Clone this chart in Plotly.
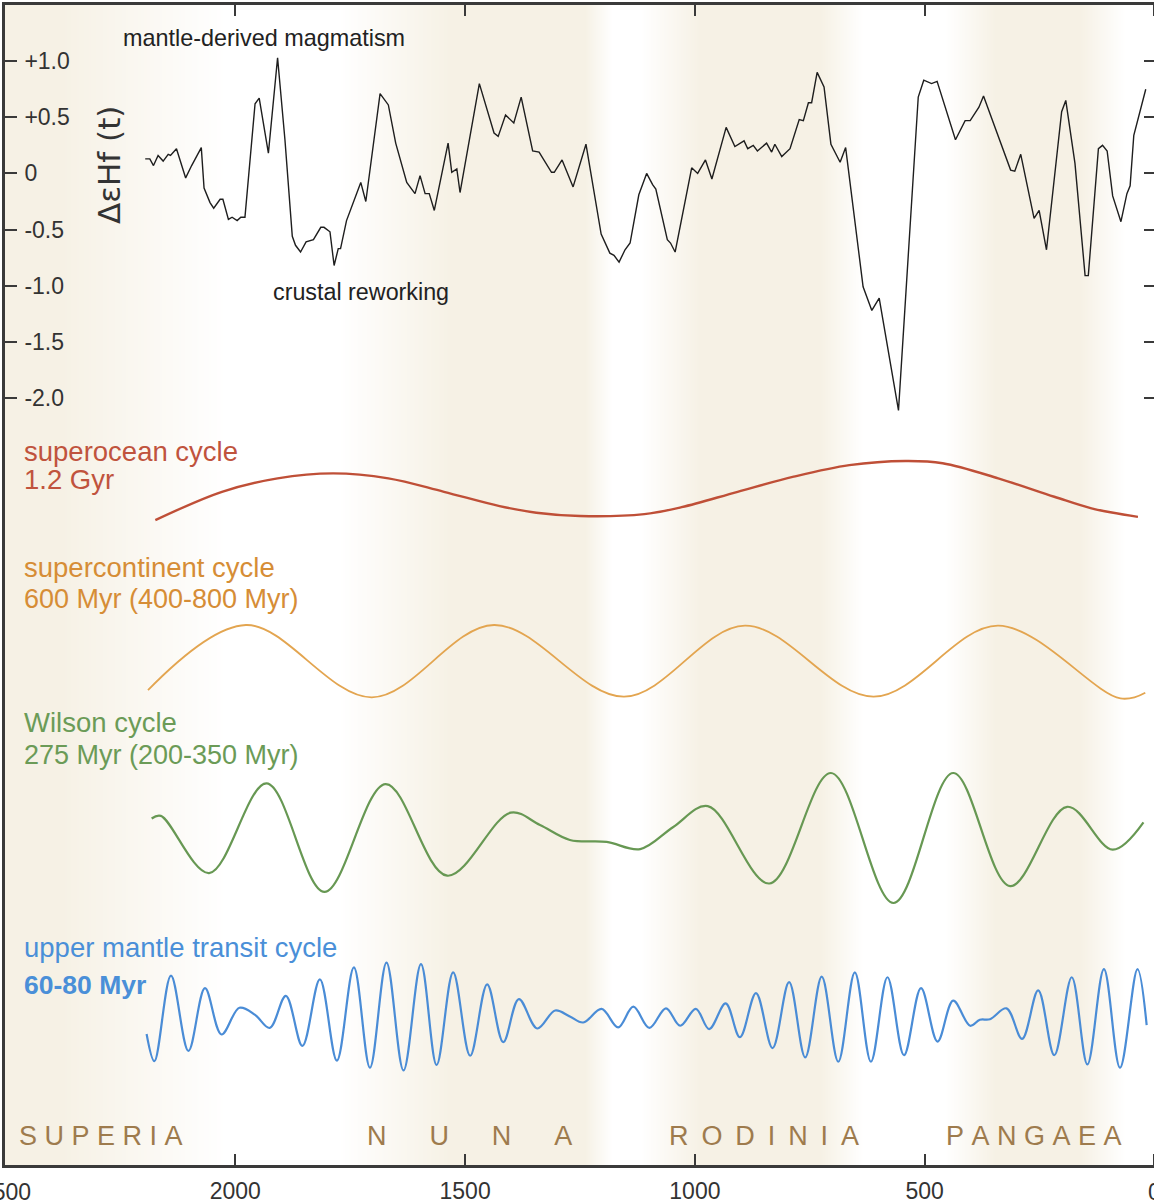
import plotly.graph_objects as go

# ---------------- data ----------------
# Delta eHf(t) curve (age in Ma, value)
hf_age = [2196, 2186, 2178, 2168, 2157, 2146, 2141, 2128, 2108, 2095, 2074, 2068, 2055, 2047, 2033, 2027,
          2015, 2007, 1996, 1988, 1979, 1957, 1948, 1928, 1908, 1892, 1876, 1869, 1858, 1846, 1830, 1814,
          1807, 1794, 1785, 1776, 1771, 1758, 1727, 1716, 1685, 1667, 1651, 1642, 1627, 1609, 1598, 1587,
          1578, 1567, 1537, 1529, 1518, 1511, 1469, 1437, 1428, 1412, 1394, 1378, 1353, 1339, 1312, 1306,
          1289, 1265, 1237, 1204, 1185, 1176, 1165, 1152, 1141, 1122, 1105, 1092, 1085, 1060, 1053, 1043,
          1007, 994, 977, 963, 949, 932, 913, 893, 885, 873, 864, 844, 833, 826, 811, 793,
          773, 764, 753, 746, 734, 719, 704, 684, 672, 634, 615, 599, 557, 514, 502, 485,
          473, 433, 412, 401, 382, 372, 313, 304, 291, 262, 251, 235, 202, 193, 173, 151,
          144, 122, 113, 103, 91, 73, 60, 53, 45, 19]
hf_val = [0.13, 0.13, 0.07, 0.16, 0.11, 0.17, 0.16, 0.22, -0.04, 0.07, 0.23, -0.13, -0.26, -0.31, -0.23, -0.23,
          -0.41, -0.39, -0.42, -0.39, -0.39, 0.62, 0.67, 0.18, 1.03, 0.30, -0.56, -0.64, -0.70, -0.61, -0.59, -0.48,
          -0.48, -0.52, -0.82, -0.67, -0.67, -0.42, -0.08, -0.25, 0.71, 0.61, 0.27, 0.13, -0.08, -0.18, -0.02, -0.18,
          -0.18, -0.33, 0.27, 0.01, 0.04, -0.17, 0.80, 0.36, 0.33, 0.52, 0.45, 0.68, 0.20, 0.19, 0.01, 0.01,
          0.12, -0.12, 0.26, -0.54, -0.71, -0.73, -0.79, -0.68, -0.62, -0.19, 0.00, -0.10, -0.14, -0.59, -0.62, -0.70,
          0.05, 0.00, 0.12, -0.05, 0.15, 0.41, 0.24, 0.29, 0.22, 0.25, 0.20, 0.27, 0.19, 0.26, 0.15, 0.22,
          0.48, 0.47, 0.63, 0.63, 0.90, 0.77, 0.26, 0.10, 0.23, -1.01, -1.22, -1.11, -2.11, 0.68, 0.83, 0.80,
          0.82, 0.30, 0.47, 0.47, 0.59, 0.69, 0.03, 0.02, 0.17, -0.40, -0.33, -0.68, 0.55, 0.65, 0.09, -0.91,
          -0.91, 0.22, 0.25, 0.20, -0.20, -0.43, -0.18, -0.11, 0.34, 0.75]

# schematic cycles (age in Ma, relative amplitude)
superocean_age = [2174, 2029, 1908, 1787, 1667, 1546, 1425, 1345, 1250, 1110, 1029, 907, 785, 664, 542, 461, 340, 218, 137, 36]
superocean_val = [-1.15, -0.12, 0.37, 0.55, 0.37, -0.12, -0.64, -0.88, -1.0, -0.93, -0.68, -0.12, 0.43, 0.85, 1.0, 0.92, 0.37, -0.30, -0.72, -1.03]

supercont_age = [2190, 1977, 1703, 1437, 1154, 891, 611, 340, 74, 20]
supercont_val = [-0.81, 1.0, -1.01, 1.0, -0.99, 0.98, -0.99, 0.98, -1.04, -0.88]

wilson_age = [2182, 2162, 2057, 1932, 1806, 1673, 1539, 1401, 1337, 1272, 1192, 1119, 1047, 972, 838, 704, 568, 438, 314, 190, 91, 24]
wilson_val = [0.30, 0.34, -0.54, 0.84, -0.83, 0.83, -0.58, 0.39, 0.20, -0.03, -0.06, -0.17, 0.17, 0.49, -0.70, 1.0, -1.0, 1.0, -0.74, 0.48, -0.18, 0.24]

transit_age = [2193, 2176, 2140, 2102, 2066, 2030, 1991, 1957, 1925, 1890, 1854, 1816, 1779, 1742, 1707, 1671,
               1634, 1596, 1562, 1526, 1489, 1452, 1417, 1383, 1343, 1304, 1272, 1243, 1203, 1167, 1134, 1099,
               1063, 1032, 998, 969, 933, 902, 867, 831, 795, 760, 724, 688, 652, 617, 581, 545,
               508, 472, 438, 401, 380, 358, 322, 288, 253, 218, 180, 146, 110, 75, 37, 17]
transit_val = [-0.32, -0.82, 0.75, -0.63, 0.52, -0.33, 0.16, 0.03, -0.21, 0.38, -0.54, 0.68, -0.81, 0.90, -0.94, 0.99,
               -0.99, 0.96, -0.89, 0.81, -0.72, 0.59, -0.47, 0.32, -0.22, 0.11, 0.00, -0.11, 0.14, -0.20, 0.18, -0.21,
               0.15, -0.17, 0.14, -0.23, 0.24, -0.38, 0.43, -0.58, 0.63, -0.75, 0.73, -0.83, 0.81, -0.83, 0.72, -0.71,
               0.52, -0.46, 0.29, -0.17, -0.06, -0.05, 0.15, -0.41, 0.48, -0.71, 0.72, -0.88, 0.87, -0.94, 0.87, -0.16]

# supercontinent shading (age breakpoints, shading level 0..1)
band_age = [2500, 2380, 2020, 1776, 1532, 1239, 1180, 1119, 989, 728, 634, 456, 347, 162, 64, 0]
band_level = [1, 1, 0, 0, 1, 1, 0, 0, 1, 1, 0, 0, 1, 1, 0, 0]

# supercontinent names
continent_names = ["SUPERIA", "NUNA", "RODINIA", "PANGAEA"]

y_tickvals = [1.0, 0.5, 0.0, -0.5, -1.0, -1.5, -2.0]
y_ticktext = ["+1.0", "+0.5", "0", "-0.5", "-1.0", "-1.5", "-2.0"]
x_tickvals = [2500, 2000, 1500, 1000, 500, 0]
x_ticktext = ["2500", "2000", "1500", "1000", "500", "0"]

# ---------------- layout geometry ----------------
# figure is 2 px wider than the window so the right frame line falls just outside the view
W, H = 1156, 1204
ML, MR, MT, MB = 5, 0, 5, 39
PL, PR, PT, PB = ML, W - MR, MT, H - MB
Y_RANGE = [-8.831, 1.5]
X_RANGE = [2501.1, -3.3]


def fx(px):
    return (px - PL) / (PR - PL)


def fy(py):
    return (PB - py) / (PB - PT)


AX = "#3a3a3a"
FONT = "Liberation Sans, Arial, sans-serif"

fig = go.Figure()

fig.add_trace(go.Heatmap(
    x=band_age, y=Y_RANGE, z=[band_level, band_level],
    zmin=0, zmax=1, zsmooth="best", showscale=False, hoverinfo="skip",
    colorscale=[[0, "#FFFFFF"], [1, "#F6F1E5"]],
))

fig.add_trace(go.Scatter(x=hf_age, y=hf_val, mode="lines",
                         line=dict(color="#1e1e1e", width=1.4), hoverinfo="skip"))

cycles = [
    (superocean_age, superocean_val, "#BF4F37", 2.4, "y2", 488.5, 27.5),
    (supercont_age, supercont_val, "#E3A550", 1.8, "y3", 661, 36),
    (wilson_age, wilson_val, "#679853", 2.2, "y4", 838, 65),
    (transit_age, transit_val, "#4A8CD6", 2.2, "y5", 1016.5, 54.5),
]
R = 1.4
for ages, vals, col, wdt, yax, cpx, hpx in cycles:
    fig.add_trace(go.Scatter(x=ages, y=vals, mode="lines", yaxis=yax,
                             line=dict(color=col, width=wdt, shape="spline", smoothing=1.0),
                             hoverinfo="skip"))
    name = "yaxis" + yax[1:]
    fig.layout[name] = dict(domain=[fy(cpx + R * hpx), fy(cpx - R * hpx)], range=[-R, R],
                            anchor="x", visible=False, fixedrange=True)

fig.update_layout(
    width=W, height=H,
    margin=dict(l=ML, r=MR, t=MT, b=MB, autoexpand=False),
    paper_bgcolor="white", plot_bgcolor="rgba(0,0,0,0)",
    showlegend=False,
    xaxis=dict(range=X_RANGE, tickvals=x_tickvals, ticktext=x_ticktext,
               ticks="inside", ticklen=11, tickwidth=2.2, tickcolor=AX,
               showline=True, linewidth=3, linecolor=AX, mirror="ticks",
               showgrid=False, zeroline=False, ticklabelstandoff=3,
               tickfont=dict(family=FONT, size=23, color="#333333")),
    yaxis=dict(range=Y_RANGE, tickvals=y_tickvals, ticktext=y_ticktext,
               ticks="inside", ticklen=12, tickwidth=2.2, tickcolor=AX,
               ticklabelposition="inside", ticklabelstandoff=9,
               showline=True, linewidth=3, linecolor=AX, mirror="ticks",
               showgrid=False, zeroline=False,
               tickfont=dict(family=FONT, size=23, color="#333333")),
)

ann = []


def add_text(text, px, py, color, size, family=FONT, xanchor="left", weight="normal", angle=0):
    ann.append(dict(text=text, x=fx(px), y=fy(py), xref="paper", yref="paper",
                    xanchor=xanchor, yanchor="middle", showarrow=False, textangle=angle,
                    font=dict(family=family, size=size, color=color, weight=weight)))


# edge tick labels (plotly hides tick labels that overflow the page, the reference shows them clipped)
for v, t in zip(x_tickvals, x_ticktext):
    if v in (X_RANGE[0] // 1, 2500, 0):
        ann.append(dict(text=t, x=v, y=fy(1192), xref="x", yref="paper", xanchor="center",
                        yanchor="middle", showarrow=False,
                        font=dict(family=FONT, size=23, color="#333333")))

add_text("mantle-derived magmatism", 121, 38, "#222222", 23.4)
add_text("crustal reworking", 271, 292, "#222222", 23.3)
add_text("ΔεHf (t)", 109, 165, "#333333", 31, family="DejaVu Sans, Liberation Sans, sans-serif",
         xanchor="center", angle=-90)

add_text("superocean cycle", 22, 451, "#C0533D", 27.5)
add_text("1.2 Gyr", 22, 480, "#C0533D", 27.5)
add_text("supercontinent cycle", 22, 567, "#D68D36", 27.5)
add_text("600 Myr (400-800 Myr)", 22, 599, "#D68D36", 27)
add_text("Wilson cycle", 22, 722, "#6B9B57", 27.5)
add_text("275 Myr (200-350 Myr)", 22, 755, "#6B9B57", 27)
add_text("upper mantle transit cycle", 22, 947, "#4A8FD8", 27.5)
add_text("60-80 Myr", 22, 985, "#4A8FD8", 26.5, weight="bold")

# letter-spaced supercontinent names
BROWN = "#9E7B4D"
NB, TH = "\u00a0", "\u2009"
spacing = [NB, NB * 5 + TH, NB + TH, NB]
starts = [17, 365, 667, 944]
for word, sp, x0 in zip(continent_names, spacing, starts):
    add_text(sp.join(word), x0, 1136, BROWN, 27)

fig.update_layout(annotations=ann)

fig.write_html("out.html", config={"displayModeBar": False},
               post_script="document.body.style.margin='0px';document.body.style.overflow='hidden';")
